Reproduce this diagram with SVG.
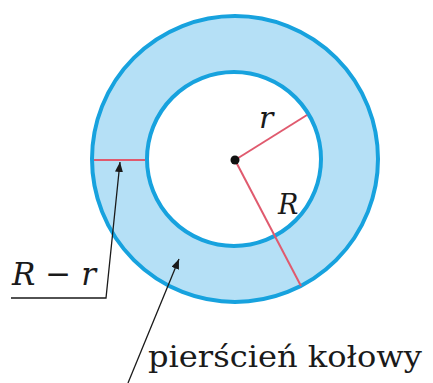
<svg xmlns="http://www.w3.org/2000/svg" width="433" height="383" viewBox="0 0 433 383">
<style>
.ring{fill:#b5e0f6;stroke:#17a2de;stroke-width:4}
.hole{fill:#ffffff;stroke:#17a2de;stroke-width:4}
.red{stroke:#e05a6e;stroke-width:2;fill:none}
.lead{stroke:#1a1a1a;stroke-width:1.3;fill:none}
.math{font-family:'DejaVu Serif','Liberation Serif',serif;font-style:italic;fill:#1a1a1a}
.lbl{font-family:'DejaVu Serif','Liberation Serif',serif;fill:#1a1a1a}
</style>
<defs>
<marker id="arr" markerWidth="10" markerHeight="8" refX="10" refY="4" orient="auto" markerUnits="userSpaceOnUse">
<path d="M0,0 L10,4 L0,8 Z" fill="#1a1a1a"/>
</marker>
</defs>
<g id="annulus">
<circle class="ring" cx="235" cy="159" r="143"/>
<circle class="hole" cx="234" cy="159" r="87"/>
</g>
<g id="radii">
<line class="red" x1="94" y1="160" x2="145" y2="160"/>
<line class="red" x1="235" y1="160" x2="307" y2="115"/>
<line class="red" x1="235" y1="160" x2="301" y2="286"/>
<circle cx="235" cy="160" r="4.5" fill="#111"/>
</g>
<g id="label-r"><text class="math" x="259" y="128" font-size="30">r</text></g>
<g id="label-R"><text class="math" x="278" y="214" font-size="27">R</text></g>
<g id="label-Rr"><text class="math" x="12" y="285" font-size="32" textLength="84" lengthAdjust="spacingAndGlyphs">R − r</text></g>
<g id="label-ring"><text class="lbl" x="148" y="367" font-size="30" textLength="274" lengthAdjust="spacingAndGlyphs">pierścień kołowy</text></g>
<g id="connectors">
<polyline class="lead" points="11,298 106,298 120,162" marker-end="url(#arr)"/>
<line class="lead" x1="128" y1="383" x2="179" y2="259" marker-end="url(#arr)"/>
</g>
</svg>
